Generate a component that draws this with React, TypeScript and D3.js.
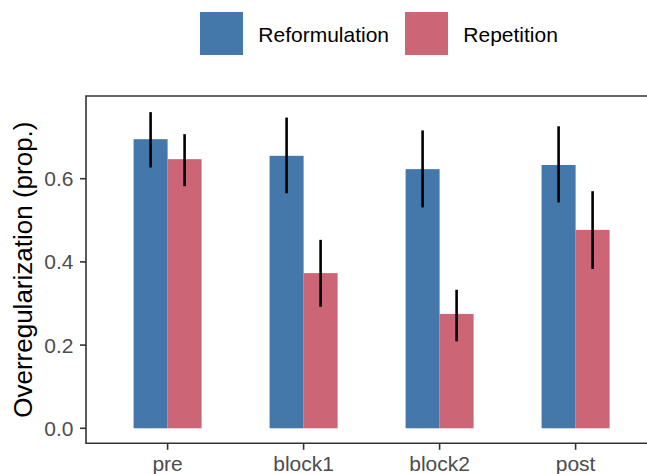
import { useEffect, useRef } from 'react';
import * as d3 from 'd3';

const phases = ['pre', 'block1', 'block2', 'post'];
const conditions = ['Reformulation', 'Repetition'];
const colors = ['#4477AA', '#CC6677'];

// means and error bar ends
const reformMean = [0.695, 0.655, 0.623, 0.633];
const reformLo = [0.627, 0.565, 0.531, 0.543];
const reformHi = [0.760, 0.747, 0.716, 0.726];
const repMean = [0.647, 0.373, 0.275, 0.477];
const repLo = [0.582, 0.292, 0.209, 0.383];
const repHi = [0.707, 0.453, 0.333, 0.570];

const yTicks = [0, 0.2, 0.4, 0.6];

const W = 647;
const H = 474;
const FONT = '"Liberation Sans", Arial, sans-serif';

const App = () => {
  const svgRef = useRef<SVGSVGElement>(null);

  useEffect(() => {
    const svg = d3.select(svgRef.current);
    svg.selectAll('*').remove();

    const panel = { left: 86, top: 96, bottom: 443.3 };

    // panel runs past the right edge of the picture
    const x = d3.scalePoint<string>()
      .domain(phases)
      .range([86, 657.2])
      .padding(0.6);
    const step = x.step();
    const barW = step * 0.25;

    const y = d3.scaleLinear().domain([0, 0.6]).range([428.3, 178.7]);

    const rows = phases.flatMap((p, i) => [
      { phase: p, cond: 0, mean: reformMean[i], lo: reformLo[i], hi: reformHi[i] },
      { phase: p, cond: 1, mean: repMean[i], lo: repLo[i], hi: repHi[i] },
    ]);

    const g = svg.append('g');

    // bars
    g.selectAll('.bar')
      .data(rows)
      .join('rect')
      .attr('class', 'bar')
      .attr('x', d => x(d.phase)! + (d.cond === 0 ? -barW : 0))
      .attr('width', barW)
      .attr('y', d => y(d.mean))
      .attr('height', d => y(0) - y(d.mean))
      .attr('fill', d => colors[d.cond]);

    // error bars
    g.selectAll('.err')
      .data(rows)
      .join('line')
      .attr('class', 'err')
      .attr('x1', d => x(d.phase)! + (d.cond === 0 ? -barW / 2 : barW / 2))
      .attr('x2', d => x(d.phase)! + (d.cond === 0 ? -barW / 2 : barW / 2))
      .attr('y1', d => y(d.lo))
      .attr('y2', d => y(d.hi))
      .attr('stroke', '#000')
      .attr('stroke-width', 2.6);

    // panel border (right side is cut off by the picture edge)
    const right = W;
    svg.append('path')
      .attr('d', `M${right},${panel.top}H${panel.left}V${panel.bottom}H${right}`)
      .attr('fill', 'none')
      .attr('stroke', '#333333')
      .attr('stroke-width', 1.6);

    // y axis
    const yAxis = svg.append('g');
    yTicks.forEach(t => {
      yAxis.append('line')
        .attr('x1', panel.left - 6).attr('x2', panel.left)
        .attr('y1', y(t)).attr('y2', y(t))
        .attr('stroke', '#333333').attr('stroke-width', 1.6);
      yAxis.append('text')
        .attr('x', 73.5)
        .attr('y', y(t) + 7.5)
        .attr('text-anchor', 'end')
        .attr('font-family', FONT)
        .attr('font-size', 21)
        .attr('fill', '#4D4D4D')
        .text(d3.format('.1f')(t));
    });

    // x axis
    const xAxis = svg.append('g');
    phases.forEach(p => {
      xAxis.append('line')
        .attr('x1', x(p)!).attr('x2', x(p)!)
        .attr('y1', panel.bottom).attr('y2', panel.bottom + 6.5)
        .attr('stroke', '#333333').attr('stroke-width', 1.6);
      xAxis.append('text')
        .attr('x', x(p)!)
        .attr('y', 471)
        .attr('text-anchor', 'middle')
        .attr('font-family', FONT)
        .attr('font-size', 21)
        .attr('fill', '#4D4D4D')
        .text(p);
    });

    // y title
    svg.append('text')
      .attr('transform', `translate(31.7,${(panel.top + panel.bottom) / 2}) rotate(-90)`)
      .attr('text-anchor', 'middle')
      .attr('font-family', FONT)
      .attr('font-size', 26)
      .attr('fill', '#000')
      .text('Overregularization (prop.)');

    // legend
    const keyX = [200, 405];
    const legend = svg.append('g');
    conditions.forEach((c, i) => {
      legend.append('rect')
        .attr('x', keyX[i]).attr('y', 12)
        .attr('width', 43).attr('height', 43)
        .attr('fill', colors[i]);
      legend.append('text')
        .attr('x', keyX[i] + 58.3)
        .attr('y', 41.5)
        .attr('font-family', FONT)
        .attr('font-size', 21)
        .attr('fill', '#000')
        .text(c);
    });
  }, []);

  return (
    <svg
      ref={svgRef}
      width={W}
      height={H}
      style={{ position: 'absolute', left: 0, top: 0, overflow: 'hidden', background: '#fff' }}
    />
  );
};

export default App;
